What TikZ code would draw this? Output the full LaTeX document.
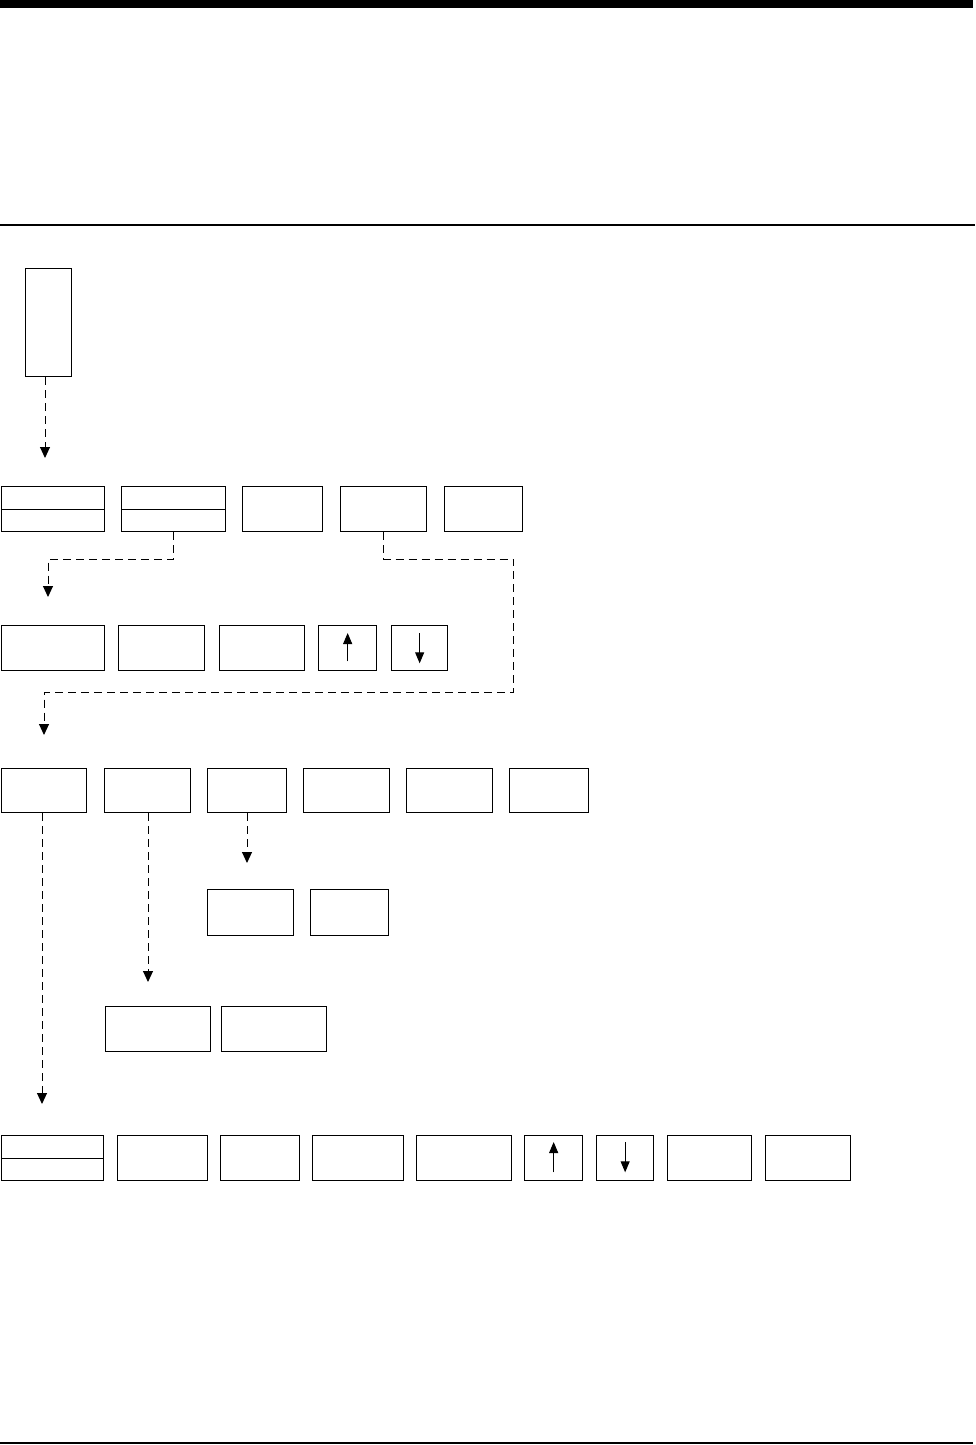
\documentclass[tikz,border=0pt]{standalone}
\usetikzlibrary{arrows.meta}
\begin{document}
\begin{tikzpicture}[x=1pt,y=-1pt,
  box/.style={draw,line width=1.3pt,inner sep=0pt,anchor=north west,minimum height=45pt},
  conn/.style={line width=1pt,dash pattern=on 8pt off 5pt,-{Triangle[length=11pt,width=10pt]}},
  ar/.style={line width=1pt,-{Triangle[length=11pt,width=9pt]}},
  divider/.style={line width=1.3pt}]
\useasboundingbox (0,0) rectangle (975,1445);
% page rules
\fill (0,0) rectangle (973,8);
\draw[line width=2pt] (0,225) -- (975,225);
\draw[line width=2pt] (0,1443) -- (973,1443);
% top box
\node[box,minimum width=46pt,minimum height=108pt] (top) at (25,268) {};
\coordinate (t1) at (45,458);
\draw[conn] (t1 |- top.south) -- (t1);
% row 1
\node[box,minimum width=103pt] (a1) at (1,486) {};
\node[box,minimum width=104pt] (a2) at (121,486) {};
\node[box,minimum width=80pt] (a3) at (242,486) {};
\node[box,minimum width=86pt] (a4) at (340,486) {};
\node[box,minimum width=78pt] (a5) at (444,486) {};
\draw[divider] (a1.west) -- (a1.east);
\draw[divider] (a2.west) -- (a2.east);
\coordinate (c1) at (48,597);
\draw[conn] (a2.south) -- ++(0,27) -| (c1);
\coordinate (c2) at (44,735);
\draw[conn] (a4.south) -- ++(0,27) -- ++(130,0) -- ++(0,133) -| (c2);
% row 2
\node[box,minimum width=103pt] (b1) at (1,625) {};
\node[box,minimum width=86pt] (b2) at (118,625) {};
\node[box,minimum width=85pt] (b3) at (219,625) {};
\node[box,minimum width=58pt] (b4) at (318,625) {};
\node[box,minimum width=56pt] (b5) at (391,625) {};
\draw[ar] ([yshift=10pt]b4.south) -- ([yshift=-8pt]b4.north);
\draw[ar] ([yshift=-8pt]b5.north) -- ([yshift=8pt]b5.south);
% row 3
\node[box,minimum width=85pt,minimum height=44pt] (d1) at (1,768) {};
\node[box,minimum width=86pt,minimum height=44pt] (d2) at (104,768) {};
\node[box,minimum width=79pt,minimum height=44pt] (d3) at (207,768) {};
\node[box,minimum width=86pt,minimum height=44pt] (d4) at (303,768) {};
\node[box,minimum width=86pt,minimum height=44pt] (d5) at (406,768) {};
\node[box,minimum width=79pt,minimum height=44pt] (d6) at (509,768) {};
% sub rows
\node[box,minimum width=86pt,minimum height=46pt] (e1) at (207,889) {};
\node[box,minimum width=78pt,minimum height=46pt] (e2) at (310,889) {};
\node[box,minimum width=105pt] (f1) at (105,1006) {};
\node[box,minimum width=105pt] (f2) at (221,1006) {};
\coordinate (c3) at (42,1104);
\draw[conn] (c3 |- d1.south) -- (c3);
\coordinate (c4) at (148,982);
\draw[conn] (c4 |- d2.south) -- (c4);
\coordinate (c5) at (247,863);
\draw[conn] (c5 |- d3.south) -- (c5);
% row 4
\node[box,minimum width=102pt] (g1) at (1,1135) {};
\node[box,minimum width=90pt] (g2) at (117,1135) {};
\node[box,minimum width=79pt] (g3) at (220,1135) {};
\node[box,minimum width=91pt] (g4) at (312,1135) {};
\node[box,minimum width=95pt] (g5) at (416,1135) {};
\node[box,minimum width=58pt] (g6) at (524,1135) {};
\node[box,minimum width=57pt] (g7) at (596,1135) {};
\node[box,minimum width=84pt] (g8) at (667,1135) {};
\node[box,minimum width=85pt] (g9) at (765,1135) {};
\draw[divider] (g1.west) -- (g1.east);
\draw[ar] ([yshift=9pt]g6.south) -- ([yshift=-7pt]g6.north);
\draw[ar] ([yshift=-7pt]g7.north) -- ([yshift=9pt]g7.south);
\end{tikzpicture}
\end{document}
